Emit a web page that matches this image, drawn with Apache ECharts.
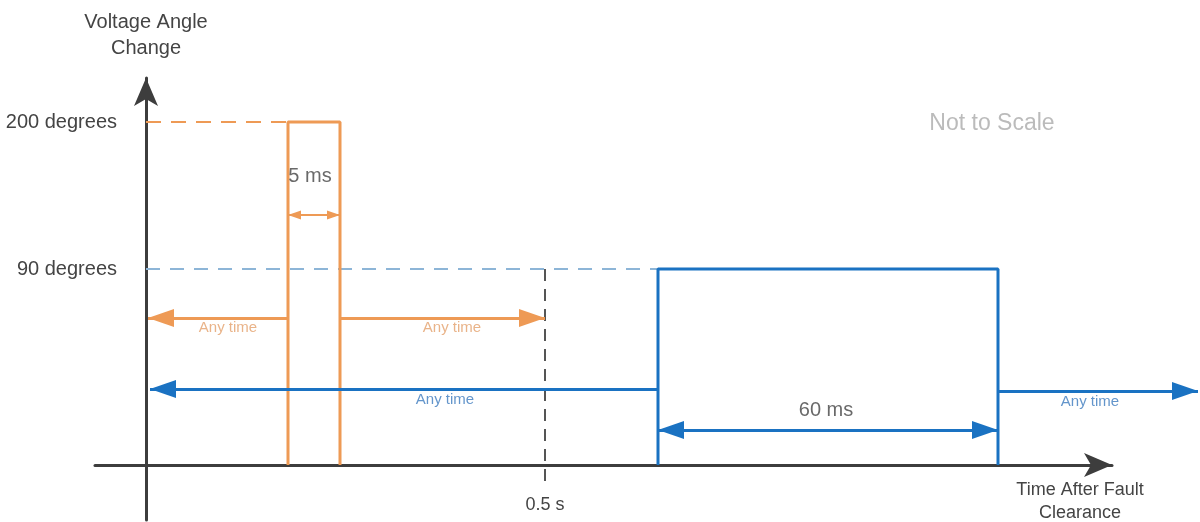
<!DOCTYPE html>
<html>
<head>
<meta charset="utf-8">
<script src="https://cdn.jsdelivr.net/npm/echarts@6/dist/echarts.min.js"></script>
<style>html,body{margin:0;padding:0;background:#fff}#c{width:1200px;height:522px}</style>
</head>
<body>
<div id="c"></div>
<script>
// Schematic (not to scale) units: time along x, angle level along y
const levelNames = ['200 degrees', '90 degrees'];
const levelValues = [343, 196];
const timeMarkNames = ['0.5 s'];
const timeMarkValues = [399];

const orangePulse = [[142, 0], [142, 343], [194, 343], [194, 0]];
const bluePulse = [[512, 0], [512, 196], [852, 196], [852, 0]];
const orangeRef = [[0, 343], [142, 343]];
const blueRef = [[0, 196], [512, 196]];
const halfSecondLine = [[399, 196], [399, -18]];

const orangeArrows = [
  [[142, 147], [2, 147]],
  [[194, 147], [399, 147]]
];
const blueArrows = [
  [[512, 76], [4, 76]],
  [[852, 74], [1052, 74]]
];
const width5ms = [[142, 250], [194, 250]];
const width60ms = [[512, 35], [852, 35]];

const annoNames = ['5 ms', 'Any time', 'Any time', 'Any time', 'Any time', '60 ms', 'Not to Scale'];
const annoValues = [[164, 289], [82, 137], [306, 137], [299, 65], [944, 63], [680, 55], [846, 341]];

const ORANGE = '#EE9A55';
const BLUE = '#1A72C2';
const FONT = '"Liberation Sans", Arial, sans-serif';
// triangle head whose tip sits at the symbol centre (so it ends exactly at the line end)
const HEAD = 'path://M0,0 M52,52 M26,26 L35,52 L17,52 Z';

const annoStyle = [
  {color: '#444', fontSize: 20},
  {color: '#E3A06C', fontSize: 15},
  {color: '#E3A06C', fontSize: 15},
  {color: '#3C7BBE', fontSize: 15},
  {color: '#3C7BBE', fontSize: 15},
  {color: '#444', fontSize: 20},
  {color: '#AAAAAA', fontSize: 23}
];

function lineSeries(data, color, width, type) {
  return {
    type: 'line', data: data, showSymbol: false, clip: false, silent: true,
    lineStyle: {color: color, width: width, type: type || 'solid'}, z: 3
  };
}
function arrowSeries(pairs, color, width, symbols, size) {
  return {
    type: 'lines', coordinateSystem: 'cartesian2d', silent: true, clip: false,
    symbol: symbols, symbolSize: size,
    lineStyle: {color: color, width: width, opacity: 1},
    data: pairs.map(p => ({coords: p})), z: 4
  };
}

const chart = echarts.init(document.getElementById('c'));
chart.setOption({
  animation: false,
  backgroundColor: '#fff',
  textStyle: {fontFamily: FONT},
  grid: {left: 95, right: 88, top: 78, bottom: 2, outerBoundsMode: 'none'},
  xAxis: {
    type: 'value', min: -51, max: 966,
    splitLine: {show: false},
    axisTick: {show: false},
    axisLine: {onZero: true, lineStyle: {color: '#3d3d3d', width: 3}, symbol: ['none', 'arrow'], symbolSize: [18, 28]},
    axisLabel: {
      customValues: timeMarkValues, margin: -24, fontSize: 18, color: '#444', fontFamily: FONT,
      formatter: v => timeMarkNames[timeMarkValues.indexOf(v)] || ''
    },
    name: 'Time After Fault\nClearance', nameLocation: 'end', nameGap: -32,
    nameTextStyle: {align: 'center', verticalAlign: 'top', padding: [14, 0, 0, 0], fontSize: 18, lineHeight: 23, color: '#444', fontFamily: FONT}
  },
  yAxis: {
    type: 'value', min: -55, max: 387,
    splitLine: {show: false},
    axisTick: {show: false},
    axisLine: {show: true, onZero: true, lineStyle: {color: '#3d3d3d', width: 3}, symbol: ['none', 'arrow'], symbolSize: [18, 28]},
    axisLabel: {
      customValues: levelValues, margin: -22, fontSize: 20, color: '#444', fontFamily: FONT,
      formatter: v => levelNames[levelValues.indexOf(v)] || ''
    },
    name: 'Voltage Angle\nChange', nameLocation: 'end', nameGap: 17,
    nameTextStyle: {align: 'center', fontSize: 20, lineHeight: 26, color: '#444', fontFamily: FONT}
  },
  series: [
    lineSeries(orangeRef, ORANGE, 2, [15, 10]),
    lineSeries(blueRef, '#8DB5D7', 2, [14, 10]),
    lineSeries(halfSecondLine, '#555', 2, [12, 8]),
    lineSeries(orangePulse, ORANGE, 3),
    lineSeries(bluePulse, BLUE, 3),
    arrowSeries(orangeArrows, ORANGE, 3, ['none', HEAD], 52),
    arrowSeries(blueArrows, BLUE, 3, ['none', HEAD], 52),
    arrowSeries([width5ms], ORANGE, 2, [HEAD, HEAD], 26),
    arrowSeries([width60ms], BLUE, 3, [HEAD, HEAD], 52),
    {
      type: 'scatter', symbolSize: 0, silent: true, clip: false, z: 5,
      data: annoValues.map((v, i) => ({
        value: v, name: annoNames[i],
        label: {show: true, position: 'inside', formatter: annoNames[i], fontFamily: FONT,
          color: annoStyle[i].color, fontSize: annoStyle[i].fontSize}
      }))
    }
  ]
});
</script>
</body>
</html>
